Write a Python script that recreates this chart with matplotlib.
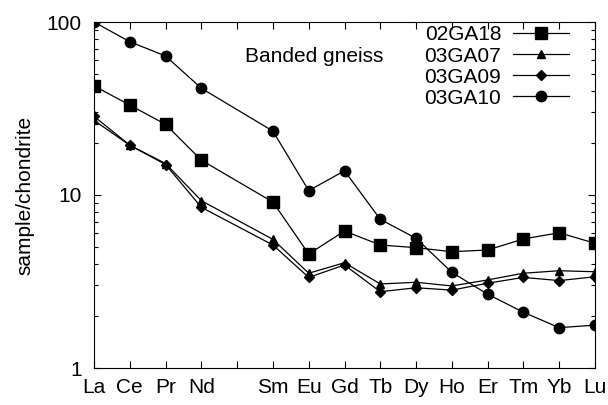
import numpy as np
import matplotlib.pyplot as plt
from matplotlib.ticker import LogLocator, NullFormatter

plt.rcParams['font.family'] = ['Liberation Sans', 'DejaVu Sans']

# REE order, Pm is a gap (tick without label)
elements = ["La", "Ce", "Pr", "Nd", "Pm", "Sm", "Eu", "Gd", "Tb", "Dy", "Ho", "Er", "Tm", "Yb", "Lu"]
tick_labels = ["La", "Ce", "Pr", "Nd", "", "Sm", "Eu", "Gd", "Tb", "Dy", "Ho", "Er", "Tm", "Yb", "Lu"]
measured = ["La", "Ce", "Pr", "Nd", "Sm", "Eu", "Gd", "Tb", "Dy", "Ho", "Er", "Tm", "Yb", "Lu"]

ga18 = [42.7, 33.1, 25.6, 15.9, 9.1, 4.56, 6.19, 5.14, 4.96, 4.70, 4.81, 5.57, 6.05, 5.26]
ga07 = [27.0, 19.4, 15.2, 9.27, 5.54, 3.53, 4.06, 3.06, 3.13, 2.98, 3.23, 3.53, 3.65, 3.60]
ga09 = [28.5, 19.4, 15.0, 8.49, 5.14, 3.34, 3.94, 2.76, 2.91, 2.82, 3.09, 3.34, 3.20, 3.37]
ga10 = [100.0, 76.9, 63.6, 41.4, 23.4, 10.6, 13.8, 7.23, 5.62, 3.57, 2.67, 2.10, 1.71, 1.77]

x = [elements.index(e) for e in measured]

W, H = 608, 405
fs = 15
fig = plt.figure(figsize=(W / 100, H / 100), dpi=100)
ax = fig.add_axes([94 / W, 1 - 368 / H, (595 - 94) / W, (368 - 22) / H])

lw = 0.9
ax.plot(x, ga18, color="black", lw=lw, marker="s", ms=8, label="02GA18")
ax.plot(x, ga07, color="black", lw=lw, marker="^", ms=6, label="03GA07")
ax.plot(x, ga09, color="black", lw=lw, marker="D", ms=5, label="03GA09")
ax.plot(x, ga10, color="black", lw=lw, marker="o", ms=7.5, label="03GA10")

ax.set_yscale("log")
ax.set_ylim(1, 100)
ax.set_xlim(0, len(elements) - 1)
ax.set_xticks(range(len(elements)))
ax.set_xticklabels(tick_labels)
ax.set_yticks([1, 10, 100])
ax.set_yticklabels(["1", "10", "100"])
ax.yaxis.set_minor_locator(LogLocator(base=10, subs=np.arange(2, 10)))
ax.yaxis.set_minor_formatter(NullFormatter())

ax.tick_params(which="both", direction="in", top=True, right=True, labelsize=fs)
ax.tick_params(which="major", length=5, width=0.8)
ax.tick_params(which="minor", length=3, width=0.8)
ax.tick_params(axis="x", pad=7)
ax.tick_params(axis="y", pad=9)
for s in ax.spines.values():
    s.set_linewidth(0.8)

ax.set_ylabel("sample/chondrite", fontsize=fs)
ax.yaxis.set_label_coords(-0.118, 0.5)
fig.text(245 / W, 1 - 61.7 / H, "Banded gneiss", fontsize=fs, va="baseline")

ax.legend(loc="upper right", bbox_to_anchor=(569 / W, 1 - 25.5 / H), bbox_transform=fig.transFigure,
          frameon=False, markerfirst=False, fontsize=fs, handlelength=2.7,
          labelspacing=0.1, borderaxespad=0, borderpad=0, handletextpad=0.55)

fig.savefig("out.png", dpi=100)
